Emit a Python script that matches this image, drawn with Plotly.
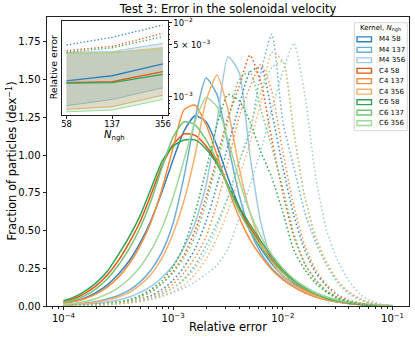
import plotly.graph_objects as go

# ---- data ----
title = "Test 3: Error in the solenoidal velocity"
kernels = ["M4", "C4", "C6"]
nngh = [58, 137, 356]
kernel_colors = {
    "M4": ["#3182bd", "#6baed6", "#9ecae1"],
    "C4": ["#e6550d", "#fd8d3c", "#fdae6b"],
    "C6": ["#31a354", "#74c476", "#a1d99b"],
}

# bin centres, log10(relative error)
log_err = [-4.0, -3.9, -3.8, -3.7, -3.6, -3.5, -3.4, -3.3, -3.2, -3.1, -3.0,
           -2.9, -2.8, -2.7, -2.6, -2.5, -2.4, -2.3, -2.2, -2.1, -2.0,
           -1.9, -1.8, -1.7, -1.6, -1.5, -1.4, -1.3, -1.2, -1.1, -1.0]

# solid histograms (dex^-1)
m4_58_solid = [0.02, 0.033, 0.055, 0.09, 0.14, 0.21, 0.30, 0.42, 0.57, 0.76, 0.97, 1.16, 1.26, 1.22, 1.06, 0.85,
               0.66, 0.50, 0.38, 0.28, 0.20, 0.145, 0.10, 0.068, 0.045, 0.03, 0.018, 0.011, 0.006, 0.003, 0.001]
m4_137_solid = [0.008, 0.012, 0.02, 0.03, 0.046, 0.07, 0.105, 0.16, 0.24, 0.36, 0.55, 0.86, 1.24, 1.51, 1.40, 1.07,
                0.74, 0.50, 0.35, 0.25, 0.18, 0.13, 0.09, 0.062, 0.04, 0.026, 0.016, 0.01, 0.005, 0.002, 0.001]
m4_356_solid = [0.005, 0.008, 0.012, 0.018, 0.027, 0.04, 0.06, 0.09, 0.13, 0.19, 0.27, 0.39, 0.55, 0.80, 1.22, 1.65,
                1.55, 1.00, 0.55, 0.30, 0.19, 0.13, 0.09, 0.06, 0.04, 0.027, 0.017, 0.01, 0.006, 0.003, 0.001]
c4_58_solid = [0.03, 0.05, 0.085, 0.135, 0.205, 0.30, 0.42, 0.56, 0.74, 0.93, 1.07, 1.14, 1.13, 1.06, 0.95, 0.80,
               0.65, 0.52, 0.41, 0.31, 0.225, 0.16, 0.11, 0.075, 0.048, 0.03, 0.018, 0.011, 0.006, 0.003, 0.001]
c4_137_solid = [0.018, 0.03, 0.05, 0.08, 0.125, 0.19, 0.28, 0.40, 0.56, 0.78, 1.05, 1.30, 1.33, 1.20, 1.00, 0.78,
                0.59, 0.44, 0.33, 0.24, 0.175, 0.125, 0.088, 0.06, 0.04, 0.026, 0.016, 0.01, 0.005, 0.002, 0.001]
c4_356_solid = [0.006, 0.01, 0.016, 0.025, 0.04, 0.06, 0.09, 0.14, 0.21, 0.32, 0.48, 0.70, 1.00, 1.36, 1.53, 1.30,
                0.92, 0.62, 0.42, 0.29, 0.20, 0.14, 0.10, 0.068, 0.045, 0.03, 0.019, 0.012, 0.007, 0.003, 0.001]
c6_58_solid = [0.035, 0.06, 0.10, 0.155, 0.23, 0.34, 0.46, 0.60, 0.78, 0.96, 1.06, 1.10, 1.10, 1.04, 0.94, 0.80,
               0.66, 0.54, 0.43, 0.33, 0.24, 0.17, 0.12, 0.08, 0.05, 0.033, 0.02, 0.012, 0.007, 0.003, 0.001]
c6_137_solid = [0.025, 0.042, 0.07, 0.115, 0.18, 0.27, 0.38, 0.52, 0.70, 0.92, 1.12, 1.22, 1.20, 1.10, 0.96, 0.79,
                0.63, 0.50, 0.39, 0.30, 0.22, 0.16, 0.115, 0.08, 0.055, 0.037, 0.024, 0.015, 0.008, 0.004, 0.001]
c6_356_solid = [0.01, 0.018, 0.03, 0.05, 0.08, 0.12, 0.18, 0.26, 0.37, 0.52, 0.72, 0.97, 1.22, 1.38, 1.32, 1.10,
                0.84, 0.62, 0.46, 0.34, 0.25, 0.18, 0.13, 0.09, 0.062, 0.042, 0.027, 0.017, 0.01, 0.005, 0.002]

# dotted histograms (dex^-1)
m4_58_dot = [0.001, 0.003, 0.005, 0.008, 0.012, 0.019, 0.03, 0.046, 0.07, 0.11, 0.17, 0.26, 0.38, 0.56, 0.80, 1.06,
             1.32, 1.55, 1.58, 1.28, 0.92, 0.60, 0.37, 0.22, 0.13, 0.07, 0.037, 0.018, 0.008, 0.003, 0.001]
m4_137_dot = [0.001, 0.003, 0.005, 0.008, 0.012, 0.018, 0.026, 0.038, 0.055, 0.08, 0.12, 0.18, 0.27, 0.40, 0.55, 0.72,
              0.95, 1.15, 1.55, 1.80, 1.22, 0.92, 0.62, 0.42, 0.27, 0.16, 0.09, 0.045, 0.02, 0.007, 0.002]
m4_356_dot = [0.0, 0.002, 0.004, 0.007, 0.01, 0.015, 0.022, 0.03, 0.045, 0.065, 0.09, 0.12, 0.16, 0.21, 0.27, 0.38,
              0.58, 0.80, 1.03, 1.30, 1.55, 1.74, 1.40, 0.85, 0.50, 0.30, 0.17, 0.08, 0.035, 0.012, 0.003]
c4_58_dot = [0.002, 0.004, 0.007, 0.011, 0.017, 0.026, 0.04, 0.062, 0.095, 0.15, 0.23, 0.34, 0.50, 0.72, 0.98, 1.25,
             1.45, 1.66, 1.48, 1.10, 0.75, 0.46, 0.28, 0.17, 0.10, 0.055, 0.03, 0.015, 0.006, 0.002, 0.001]
c4_137_dot = [0.001, 0.002, 0.004, 0.007, 0.011, 0.017, 0.026, 0.04, 0.062, 0.095, 0.145, 0.22, 0.32, 0.46, 0.68, 0.95,
              1.25, 1.45, 1.60, 1.42, 1.02, 0.66, 0.40, 0.24, 0.14, 0.075, 0.04, 0.02, 0.008, 0.003, 0.001]
c4_356_dot = [0.001, 0.002, 0.004, 0.006, 0.009, 0.013, 0.02, 0.03, 0.045, 0.065, 0.095, 0.14, 0.21, 0.31, 0.45, 0.63,
              0.85, 1.08, 1.35, 1.68, 1.62, 1.15, 0.72, 0.46, 0.29, 0.17, 0.095, 0.05, 0.022, 0.008, 0.002]
c6_58_dot = [0.002, 0.004, 0.007, 0.011, 0.017, 0.026, 0.04, 0.07, 0.11, 0.17, 0.26, 0.40, 0.62, 0.90, 1.20, 1.40,
             1.36, 1.22, 1.02, 0.85, 0.62, 0.37, 0.24, 0.15, 0.09, 0.05, 0.028, 0.014, 0.006, 0.002, 0.001]
c6_137_dot = [0.002, 0.004, 0.007, 0.011, 0.017, 0.026, 0.04, 0.062, 0.095, 0.15, 0.22, 0.32, 0.46, 0.68, 0.95, 1.22,
              1.50, 1.55, 1.30, 1.05, 0.78, 0.48, 0.28, 0.17, 0.10, 0.055, 0.03, 0.015, 0.006, 0.002, 0.001]
c6_356_dot = [0.002, 0.004, 0.006, 0.009, 0.013, 0.019, 0.028, 0.04, 0.06, 0.085, 0.12, 0.17, 0.25, 0.36, 0.52, 0.72,
              0.95, 1.18, 1.42, 1.58, 1.62, 1.15, 0.72, 0.44, 0.27, 0.15, 0.08, 0.04, 0.017, 0.006, 0.002]

solid = {("M4", 58): m4_58_solid, ("M4", 137): m4_137_solid, ("M4", 356): m4_356_solid,
         ("C4", 58): c4_58_solid, ("C4", 137): c4_137_solid, ("C4", 356): c4_356_solid,
         ("C6", 58): c6_58_solid, ("C6", 137): c6_137_solid, ("C6", 356): c6_356_solid}
dotted = {("M4", 58): m4_58_dot, ("M4", 137): m4_137_dot, ("M4", 356): m4_356_dot,
          ("C4", 58): c4_58_dot, ("C4", 137): c4_137_dot, ("C4", 356): c4_356_dot,
          ("C6", 58): c6_58_dot, ("C6", 137): c6_137_dot, ("C6", 356): c6_356_dot}

# inset: relative error vs N_ngh
m4_median = [1.64e-3, 1.92e-3, 2.77e-3]
c4_median = [1.55e-3, 1.60e-3, 2.18e-3]
c6_median = [1.53e-3, 1.55e-3, 2.01e-3]
m4_dotted = [5.0e-3, 6.35e-3, 9.3e-3]
c4_dotted = [4.19e-3, 4.79e-3, 7.19e-3]
c6_dotted = [3.98e-3, 4.57e-3, 6.46e-3]
m4_upper = [3.98e-3, 4.06e-3, 5.27e-3]
c4_upper = [3.90e-3, 3.95e-3, 4.59e-3]
c6_upper = [3.92e-3, 3.98e-3, 4.40e-3]
m4_lower = [7.55e-4, 9.2e-4, 1.32e-3]
c4_lower = [6.76e-4, 7.33e-4, 1.05e-3]
c6_lower = [6.26e-4, 6.6e-4, 9.2e-4]

inset_median = {"M4": m4_median, "C4": c4_median, "C6": c6_median}
inset_dotted = {"M4": m4_dotted, "C4": c4_dotted, "C6": c6_dotted}
inset_upper = {"M4": m4_upper, "C4": c4_upper, "C6": c6_upper}
inset_lower = {"M4": m4_lower, "C4": c4_lower, "C6": c6_lower}
band_fill = {"M4": "rgba(49,130,189,0.15)", "C4": "rgba(230,85,13,0.15)", "C6": "rgba(49,163,84,0.15)"}

rel_err = [10 ** v for v in log_err]

# ---- figure ----
W, H = 415, 339
L, R, T, B = 47, 6, 17, 33
PW, PH = W - L - R, H - T - B


def px(x):
    return (x - L) / PW


def py(y):
    return (H - B - y) / PH


fig = go.Figure()

dot_dash = "1.5px,2.5px"
for kern in kernels:
    for j, n in enumerate(nngh):
        col = kernel_colors[kern][j]
        fig.add_trace(go.Scatter(x=rel_err, y=solid[(kern, n)], mode="lines", hoverinfo="skip",
                                 line=dict(color=col, width=1.5, shape="spline", smoothing=0.6)))
for kern in kernels:
    for j, n in enumerate(nngh):
        col = kernel_colors[kern][j]
        fig.add_trace(go.Scatter(x=rel_err, y=dotted[(kern, n)], mode="lines", hoverinfo="skip",
                                 line=dict(color=col, width=1.5, dash=dot_dash, shape="spline", smoothing=0.6)))

# inset
for kern in kernels:
    dark, _, light = kernel_colors[kern]
    fig.add_trace(go.Scatter(x=nngh, y=inset_upper[kern], mode="lines", xaxis="x2", yaxis="y2",
                             line=dict(color=light, width=1), hoverinfo="skip"))
    fig.add_trace(go.Scatter(x=nngh, y=inset_lower[kern], mode="lines", xaxis="x2", yaxis="y2",
                             line=dict(color=light, width=1), fill="tonexty", fillcolor=band_fill[kern],
                             hoverinfo="skip"))
for kern in kernels:
    dark = kernel_colors[kern][0]
    fig.add_trace(go.Scatter(x=nngh, y=inset_median[kern], mode="lines", xaxis="x2", yaxis="y2",
                             line=dict(color=dark, width=1.3), hoverinfo="skip"))
    fig.add_trace(go.Scatter(x=nngh, y=inset_dotted[kern], mode="lines", xaxis="x2", yaxis="y2",
                             line=dict(color=dark, width=1.3, dash="1.3px,2.2px"), hoverinfo="skip"))

main_major = [1e-4, 1e-3, 1e-2, 1e-1]
main_minor = [m * 10 ** e for e in (-5, -4, -3, -2, -1) for m in range(2, 10)]
inset_major = [1e-3, 5e-3, 1e-2]
inset_minor = [m * 10 ** e for e in (-4, -3) for m in range(2, 10) if m * 10 ** e not in (5e-3,)]

axis_common = dict(showline=True, linecolor="#222", linewidth=0.9, mirror=True, showgrid=False,
                   zeroline=False, ticks="outside", tickcolor="#222", tickwidth=0.8, automargin=False)

fig.update_layout(
    width=W, height=H, margin=dict(l=L, r=R, t=T, b=B, autoexpand=False),
    paper_bgcolor="white", plot_bgcolor="white", showlegend=False,
    font=dict(family="DejaVu Sans", size=10, color="black"),
    title=dict(text=title, x=0.5, xref="paper", xanchor="center", y=1 - 9 / H, yref="container",
               yanchor="middle", font=dict(size=11.5)),
    xaxis=dict(type="log", range=[-4.15, -0.85], tickmode="array", tickvals=main_major,
               ticktext=["10<sup>\u22124</sup>", "10<sup>\u22123</sup>", "10<sup>\u22122</sup>",
                         "10<sup>\u22121</sup>"],
               ticklen=3.5, tickfont=dict(size=10),
               minor=dict(tickmode="array", tickvals=main_minor, ticks="outside", ticklen=2,
                          tickwidth=0.6, tickcolor="#222", showgrid=False),
               **axis_common),
    yaxis=dict(range=[0, 1.914], tickmode="array", tickvals=[0, 0.25, 0.5, 0.75, 1.0, 1.25, 1.5, 1.75],
               tickformat=".2f", ticklen=3.5, tickfont=dict(size=10), **axis_common),
    xaxis2=dict(domain=[px(61.7), px(167.7)], anchor="y2", type="log", range=[1.7244, 2.5908],
                tickmode="array", tickvals=nngh, ticktext=[str(n) for n in nngh], ticklen=3,
                ticklabelstandoff=-2, tickfont=dict(size=8.4), **axis_common),
    yaxis2=dict(domain=[py(115), py(20.7)], anchor="x2", side="right", type="log", range=[-3.247, -1.973],
                tickmode="array", tickvals=inset_major,
                ticktext=["10<sup>\u22123</sup>", "5 \u00d7 10<sup>\u22123</sup>", "10<sup>\u22122</sup>"],
                ticklen=3, tickfont=dict(size=8.4),
                minor=dict(tickmode="array", tickvals=inset_minor, ticks="outside", ticklen=1.8,
                           tickwidth=0.6, tickcolor="#222", showgrid=False),
                **axis_common),
)

annotations = [
    dict(text="Relative error", x=0.5, y=py(327), xref="paper", yref="paper", showarrow=False,
         xanchor="center", yanchor="middle", font=dict(size=11.5)),
    dict(text="Fraction of particles (dex<sup>\u22121</sup>)", x=px(12), y=0.5, xref="paper", yref="paper",
         showarrow=False, textangle=-90, xanchor="center", yanchor="middle", font=dict(size=11.5)),
    dict(text="Relative error", x=px(53.3), y=py(67), xref="paper", yref="paper", showarrow=False,
         textangle=-90, xanchor="center", yanchor="middle", font=dict(size=9.5)),
    dict(text="<i>N</i><sub>ngh</sub>", x=px(114.7), y=py(135.5), xref="paper", yref="paper", showarrow=False,
         xanchor="center", yanchor="middle", font=dict(size=10)),
]

# legend drawn by hand (outlined patches, like step histograms)
shapes = [dict(type="rect", xref="paper", yref="paper", x0=px(354.3), x1=px(407.3), y0=py(130.7), y1=py(22.7),
               line=dict(color="#cccccc", width=0.8), fillcolor="rgba(255,255,255,0.8)", layer="above")]
annotations.append(dict(text="Kernel, <i>N</i><sub>ngh</sub>", x=px(380.8), y=py(28.3), xref="paper",
                        yref="paper", showarrow=False, xanchor="center", yanchor="middle", font=dict(size=7)))
row = 0
for kern in kernels:
    for j, n in enumerate(nngh):
        yc = 39.3 + row * 10.48
        shapes.append(dict(type="rect", xref="paper", yref="paper", x0=px(357), x1=px(371.5),
                           y0=py(yc + 2.4), y1=py(yc - 2.4), line=dict(color=kernel_colors[kern][j], width=1.4),
                           fillcolor="rgba(0,0,0,0)", layer="above"))
        annotations.append(dict(text=f"{kern} {n}", x=px(376.5), y=py(yc), xref="paper", yref="paper",
                                showarrow=False, xanchor="left", yanchor="middle", font=dict(size=7)))
        row += 1

fig.update_layout(annotations=annotations, shapes=shapes)
# page body margin would otherwise offset the figure by 8px
fig.write_html("out.html", config={"displayModeBar": False},
               post_script="document.body.style.margin='0';")
